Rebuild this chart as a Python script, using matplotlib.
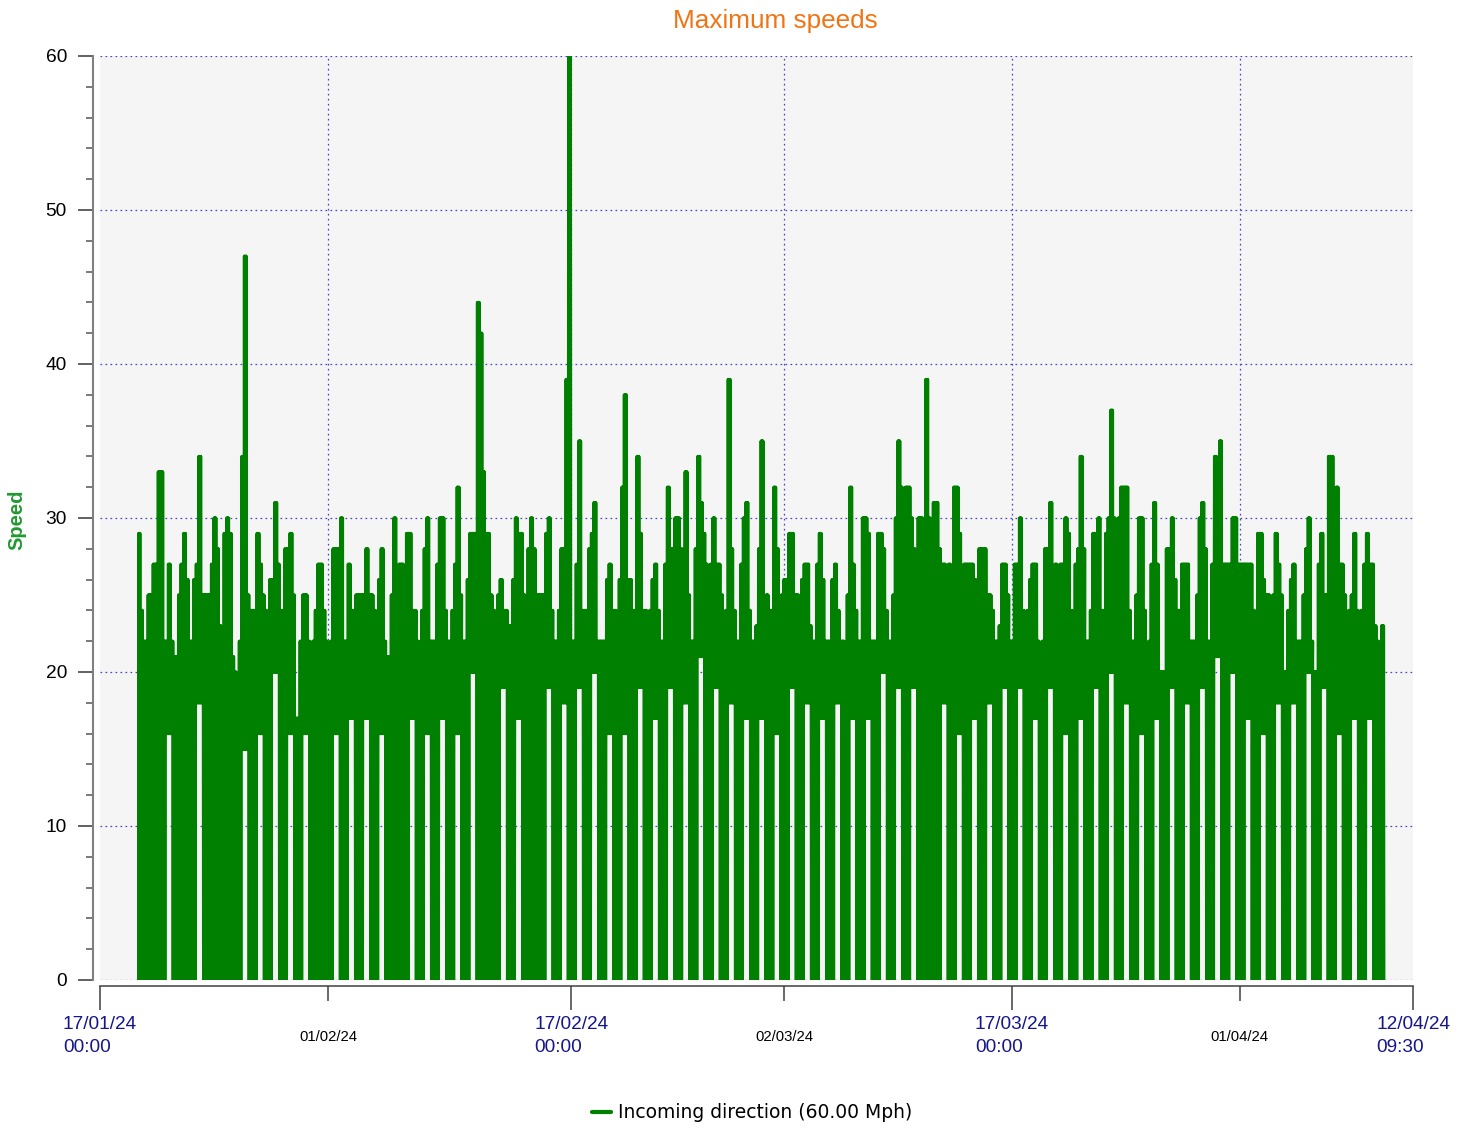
import matplotlib
matplotlib.use("Agg")
import matplotlib.pyplot as plt
import matplotlib.dates as mdates
from matplotlib.ticker import MultipleLocator
from datetime import datetime, timedelta

plt.rcParams['font.family'] = ['Liberation Sans', 'DejaVu Sans']
plt.rcParams['lines.scale_dashes'] = False
plt.rcParams['path.simplify'] = False

# ---------------- data ----------------
title = "Maximum speeds"
y_label = "Speed"
series_name = "Incoming direction (60.00 Mph)"

x_start = "2024-01-17 00:00"
x_end = "2024-04-12 09:30"
first_day = "2024-01-19"
data_start = "2024-01-19 13:00"
data_end = "2024-04-10 13:00"

# hours of the day with continuous traffic (no zero readings)
busy_hours = (7.5, 19.0)
slot_hours = 4          # each peak value covers 4 hours
sample_minutes = 30

major_tick_times = ["2024-01-17 00:00", "2024-02-17 00:00", "2024-03-17 00:00", "2024-04-12 09:30"]
major_tick_labels = ["17/01/24\n00:00", "17/02/24\n00:00", "17/03/24\n00:00", "12/04/24\n09:30"]
minor_tick_times = ["2024-02-01 00:00", "2024-03-02 00:00", "2024-04-01 00:00"]
minor_tick_labels = ["01/02/24", "02/03/24", "01/04/24"]
y_ticks = [0, 10, 20, 30, 40, 50, 60]

# maximum speed per 4-hour slot, one row per day from 19/01/24
day_peaks = [
    [None, None, None, 29, 24, 22],
    [22, 25, 25, 27, 27, 33],
    [33, 22, 22, 27, 22, 21],
    [21, 25, 27, 29, 26, 22],
    [22, 26, 27, 34, 25, 25],
    [25, 25, 27, 30, 28, 23],
    [22, 29, 30, 29, 21, 20],
    [17, 22, 34, 47, 25, 24],
    [24, 22, 29, 27, 25, 24],
    [22, 26, 26, 31, 27, 24],
    [22, 28, 28, 29, 25, 17],
    [17, 22, 25, 25, 22, 20],
    [22, 24, 27, 27, 24, 22],
    [20, 22, 28, 28, 28, 30],
    [22, 22, 27, 24, 24, 25],
    [25, 25, 25, 28, 25, 25],
    [24, 19, 26, 28, 22, 21],
    [21, 25, 30, 25, 27, 27],
    [25, 29, 29, 24, 24, 22],
    [19, 24, 28, 30, 22, 22],
    [22, 27, 30, 30, 24, 22],
    [22, 24, 27, 32, 25, 22],
    [22, 26, 29, 29, 29, 44],
    [42, 33, 29, 29, 25, 24],
    [22, 25, 26, 24, 24, 23],
    [23, 26, 30, 29, 29, 25],
    [24, 28, 30, 28, 25, 25],
    [25, 25, 29, 30, 24, 22],
    [22, 24, 28, 28, 39, 60],
    [22, 22, 27, 35, 24, 24],
    [24, 28, 29, 31, 22, 22],
    [22, 22, 26, 27, 24, 24],
    [23, 26, 32, 38, 26, 26],
    [24, 24, 34, 29, 24, 24],
    [22, 24, 26, 27, 24, 22],
    [22, 27, 32, 28, 28, 30],
    [30, 28, 27, 33, 25, 22],
    [22, 28, 34, 31, 29, 27],
    [25, 27, 30, 27, 27, 25],
    [22, 24, 39, 28, 24, 22],
    [22, 27, 30, 31, 24, 22],
    [22, 23, 28, 35, 24, 25],
    [22, 24, 32, 28, 24, 25],
    [26, 26, 29, 29, 25, 25],
    [24, 26, 27, 27, 23, 22],
    [22, 27, 29, 26, 22, 22],
    [22, 26, 27, 24, 22, 22],
    [20, 25, 32, 27, 24, 22],
    [22, 30, 30, 29, 22, 22],
    [22, 29, 29, 28, 24, 22],
    [22, 25, 30, 35, 32, 28],
    [32, 32, 30, 28, 25, 30],
    [30, 25, 39, 30, 24, 31],
    [31, 28, 27, 27, 24, 27],
    [25, 32, 32, 29, 25, 27],
    [27, 27, 27, 26, 24, 28],
    [28, 28, 25, 25, 24, 22],
    [22, 23, 27, 27, 25, 22],
    [22, 27, 27, 30, 24, 23],
    [24, 26, 27, 27, 22, 21],
    [22, 28, 28, 31, 26, 27],
    [25, 27, 27, 30, 29, 24],
    [22, 27, 28, 34, 28, 22],
    [22, 24, 29, 28, 30, 24],
    [24, 29, 30, 37, 30, 25],
    [30, 32, 32, 32, 24, 22],
    [22, 25, 30, 30, 24, 21],
    [22, 27, 31, 27, 20, 20],
    [20, 28, 28, 30, 26, 24],
    [24, 27, 27, 27, 22, 22],
    [22, 25, 30, 31, 28, 22],
    [22, 27, 34, 28, 35, 27],
    [27, 27, 27, 30, 30, 27],
    [27, 27, 27, 27, 27, 24],
    [22, 29, 29, 26, 25, 25],
    [22, 25, 29, 27, 25, 20],
    [20, 24, 26, 27, 22, 22],
    [22, 25, 28, 30, 22, 20],
    [20, 27, 29, 25, 25, 34],
    [34, 28, 32, 27, 27, 25],
    [22, 24, 25, 29, 24, 22],
    [24, 27, 29, 27, 27, 23],
    [22, 20, 23, None, None, None],
]

# lowest speed during the busy hours of each day (0 = zero readings all day)
busy_low = [
    0, 0, 16, 0, 18, 0, 0, 15, 16, 20,
    16, 16, 0, 16, 17, 17, 16, 0, 17, 16,
    17, 16, 20, 0, 19, 17, 0, 19, 18, 19,
    20, 16, 16, 19, 17, 19, 18, 21, 19, 18,
    17, 17, 16, 19, 18, 17, 18, 17, 17, 20,
    19, 19, 0, 18, 16, 17, 18, 19, 19, 17,
    19, 16, 17, 19, 20, 18, 16, 17, 19, 18,
    19, 21, 20, 17, 16, 18, 18, 20, 19, 16,
    17, 17, 0,
]

# ---------------- series ----------------
fmt = "%Y-%m-%d %H:%M"
t_first = datetime.strptime(first_day, "%Y-%m-%d")
t_s = datetime.strptime(data_start, fmt)
t_e = datetime.strptime(data_end, fmt)
times, values = [], []
n_per_day = 24 * 60 // sample_minutes
for i, (peaks, low) in enumerate(zip(day_peaks, busy_low)):
    day0 = t_first + timedelta(days=i)
    for k in range(n_per_day):
        h = k * sample_minutes / 60.0
        t = day0 + timedelta(hours=h)
        if t < t_s or t > t_e:
            continue
        hi = peaks[int(h // slot_hours)]
        if hi is None:
            continue
        busy = (busy_hours[0] <= h < busy_hours[1]) and low > 0
        v = hi if k % 2 == 0 else (low if busy else 0)
        times.append(t)
        values.append(v)

# ---------------- figure ----------------
W, H = 1470, 1131
fig = plt.figure(figsize=(W / 100, H / 100), dpi=100)
ax = fig.add_axes([100 / W, 151 / H, 1313 / W, 924 / H])
ax.set_facecolor('#F5F5F5')

line, = ax.plot(times, values, color='#008000', lw=2.2,
                solid_joinstyle='round', solid_capstyle='round',
                label=series_name, zorder=3)

ax.set_xlim(datetime.strptime(x_start, fmt), datetime.strptime(x_end, fmt))
ax.set_ylim(0, 60)

for s in ['top', 'right']:
    ax.spines[s].set_visible(False)
ax.spines['left'].set_position(('outward', 7 * 0.72))
ax.spines['bottom'].set_position(('outward', 6 * 0.72))
ax.spines['left'].set_color('#808080')
ax.spines['left'].set_linewidth(1.5)
ax.spines['bottom'].set_color('#404040')
ax.spines['bottom'].set_linewidth(1.1)

ax.set_yticks(y_ticks)
ax.yaxis.set_minor_locator(MultipleLocator(2))
ax.tick_params(axis='y', which='major', length=10.8, width=1.3, color='#555555',
               pad=8, labelsize=13.8, labelcolor='black')
ax.tick_params(axis='y', which='minor', length=5, width=1.1, color='#555555')

maj = [datetime.strptime(s, fmt) for s in major_tick_times]
mnr = [datetime.strptime(s, fmt) for s in minor_tick_times]
ax.set_xticks(mdates.date2num(maj))
ax.set_xticklabels(major_tick_labels)
ax.set_xticks(mdates.date2num(mnr), minor=True)
ax.set_xticklabels(minor_tick_labels, minor=True)
ax.tick_params(axis='x', which='major', length=17.3, width=1.1, color='#404040',
               pad=4.5, labelsize=13.7, labelcolor='#16168C')
ax.tick_params(axis='x', which='minor', length=10.8, width=1.1, color='#404040',
               pad=21, labelsize=10.7, labelcolor='black')
for lbl in ax.get_xticklabels():
    lbl.set_multialignment('left')
    lbl.set_linespacing(1.45)

grid_kw = dict(color='#4444C0', linestyle=(0, (1.2, 2.4)), linewidth=0.9)
ax.grid(True, which='major', axis='y', **grid_kw)
ax.grid(True, which='both', axis='x', **grid_kw)
ticks = ax.xaxis.get_major_ticks()
ticks[0].gridline.set_visible(False)
ticks[-1].gridline.set_visible(False)
ax.set_axisbelow(True)

fig.text(775 / W, 1 - 21 / H, title, ha='center', va='center',
         fontsize=18.8, color='#F07414')
fig.text(17 / W, 1 - 520 / H, y_label, ha='center', va='center', rotation=90,
         fontsize=14.5, fontweight='bold', color='#229933')

leg = ax.legend(loc='center', bbox_to_anchor=(752 / W, 1 - 1113 / H),
                bbox_transform=fig.transFigure, frameon=False,
                prop={'family': 'DejaVu Sans', 'size': 13.5},
                handlelength=1.0, handletextpad=0.35)
leg.get_lines()[0].set_linewidth(3)

fig.savefig('out.png', dpi=100)
